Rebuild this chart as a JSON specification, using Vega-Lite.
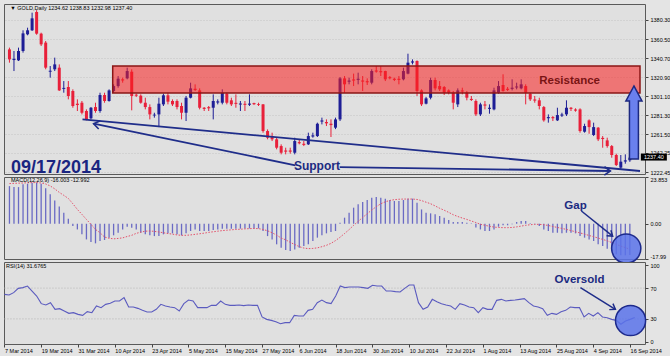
{
  "$schema": "https://vega.github.io/schema/vega-lite/v6.json",
  "background": "#e4e4e4",
  "padding": {"left": 1, "top": 3, "right": 0, "bottom": 4},
  "spacing": 3,
  "bounds": "flush",
  "resolve": {"scale": {"x": "independent", "y": "independent"}},
  "config": {
    "view": {"fill": "#e0e0e0", "stroke": "#5a5a5a", "strokeWidth": 1},
    "axis": {"labelFont": "Liberation Sans", "labelFontSize": 5.5, "labelColor": "#000000", "tickColor": "#444444", "gridColor": "#c4c4c4", "gridDash": [1, 2], "domain": false, "labelOverlap": false},
    "text": {"font": "Liberation Sans"}
  },
  "datasets": {
    "bars": [
      {"i":0,"o":1349.8,"h":1351.6,"l":1336.0,"c":1339.4,"m":19.2,"s":20.5,"r":61.9},
      {"i":1,"o":1338.7,"h":1348.1,"l":1327.3,"c":1340.0,"m":18.7,"s":20.6,"r":61.0},
      {"i":2,"o":1338.4,"h":1351.6,"l":1337.7,"c":1348.1,"m":18.7,"s":20.7,"r":64.1},
      {"i":3,"o":1348.1,"h":1369.6,"l":1346.4,"c":1366.4,"m":20.1,"s":20.8,"r":69.7},
      {"i":4,"o":1365.4,"h":1372.3,"l":1364.4,"c":1369.6,"m":20.4,"s":20.9,"r":70.6},
      {"i":5,"o":1369.6,"h":1387.9,"l":1368.9,"c":1382.0,"m":20.9,"s":21.0,"r":72.7},
      {"i":6,"o":1388.6,"h":1390.5,"l":1365.0,"c":1366.1,"m":20.9,"s":21.0,"r":66.2},
      {"i":7,"o":1366.1,"h":1367.1,"l":1353.3,"c":1355.0,"m":20.4,"s":20.8,"r":59.7},
      {"i":8,"o":1356.8,"h":1358.5,"l":1329.1,"c":1330.8,"m":18.1,"s":20.3,"r":49.8},
      {"i":9,"o":1326.6,"h":1332.5,"l":1320.4,"c":1327.6,"m":15.0,"s":19.3,"r":48.1},
      {"i":10,"o":1329.1,"h":1341.2,"l":1327.3,"c":1334.2,"m":11.9,"s":17.8,"r":51.1},
      {"i":11,"o":1330.8,"h":1334.2,"l":1306.6,"c":1307.2,"m":8.8,"s":16.0,"r":42.4},
      {"i":12,"o":1308.8,"h":1316.9,"l":1304.8,"c":1309.8,"m":5.6,"s":14.5,"r":43.3},
      {"i":13,"o":1310.7,"h":1316.9,"l":1297.9,"c":1301.4,"m":2.6,"s":12.9,"r":40.3},
      {"i":14,"o":1306.6,"h":1308.3,"l":1289.2,"c":1291.0,"m":-1.2,"s":10.2,"r":37.2},
      {"i":15,"o":1293.4,"h":1297.9,"l":1285.8,"c":1292.0,"m":-2.9,"s":7.3,"r":38.1},
      {"i":16,"o":1294.4,"h":1296.2,"l":1282.3,"c":1284.0,"m":-5.4,"s":4.8,"r":35.9},
      {"i":17,"o":1285.8,"h":1287.5,"l":1276.1,"c":1277.1,"m":-8.0,"s":2.2,"r":34.6},
      {"i":18,"o":1278.2,"h":1289.9,"l":1277.1,"c":1289.2,"m":-9.3,"s":-0.3,"r":39.4},
      {"i":19,"o":1289.9,"h":1294.4,"l":1284.0,"c":1285.8,"m":-10.0,"s":-2.9,"r":38.1},
      {"i":20,"o":1285.8,"h":1304.8,"l":1284.0,"c":1302.4,"m":-8.8,"s":-4.6,"r":46.8},
      {"i":21,"o":1302.4,"h":1304.8,"l":1294.4,"c":1296.2,"m":-8.3,"s":-6.8,"r":44.6},
      {"i":22,"o":1296.2,"h":1308.3,"l":1295.5,"c":1307.2,"m":-7.1,"s":-7.4,"r":48.9},
      {"i":23,"o":1306.6,"h":1313.5,"l":1304.8,"c":1311.7,"m":-5.9,"s":-7.7,"r":50.2},
      {"i":24,"o":1311.7,"h":1322.1,"l":1310.0,"c":1319.4,"m":-4.6,"s":-7.5,"r":53.2},
      {"i":25,"o":1318.7,"h":1320.4,"l":1315.2,"c":1317.5,"m":-2.9,"s":-7.2,"r":53.2},
      {"i":26,"o":1319.7,"h":1330.8,"l":1318.7,"c":1327.3,"m":-1.5,"s":-6.5,"r":57.6},
      {"i":27,"o":1326.6,"h":1329.1,"l":1286.5,"c":1301.4,"m":-2.0,"s":-5.9,"r":45.5},
      {"i":28,"o":1302.8,"h":1303.8,"l":1300.3,"c":1301.7,"m":-2.9,"s":-4.9,"r":45.5},
      {"i":29,"o":1301.7,"h":1303.1,"l":1293.4,"c":1294.4,"m":-4.6,"s":-4.3,"r":43.7},
      {"i":30,"o":1294.4,"h":1299.6,"l":1287.5,"c":1289.9,"m":-5.4,"s":-3.8,"r":41.1},
      {"i":31,"o":1289.9,"h":1292.7,"l":1277.1,"c":1282.3,"m":-5.9,"s":-3.7,"r":39.0},
      {"i":32,"o":1281.2,"h":1284.0,"l":1278.9,"c":1282.0,"m":-6.3,"s":-3.9,"r":39.0},
      {"i":33,"o":1282.3,"h":1299.6,"l":1269.1,"c":1293.4,"m":-6.3,"s":-4.2,"r":42.4},
      {"i":34,"o":1292.7,"h":1303.8,"l":1291.0,"c":1302.1,"m":-5.4,"s":-4.6,"r":48.9},
      {"i":35,"o":1302.1,"h":1304.8,"l":1292.7,"c":1295.5,"m":-4.9,"s":-5.0,"r":46.8},
      {"i":36,"o":1296.2,"h":1297.9,"l":1291.0,"c":1292.7,"m":-4.9,"s":-5.3,"r":45.5},
      {"i":37,"o":1296.2,"h":1297.9,"l":1287.5,"c":1289.9,"m":-5.4,"s":-5.7,"r":44.6},
      {"i":38,"o":1291.0,"h":1294.4,"l":1277.1,"c":1284.0,"m":-5.9,"s":-5.9,"r":40.3},
      {"i":39,"o":1284.0,"h":1301.4,"l":1275.4,"c":1299.6,"m":-4.9,"s":-5.9,"r":49.8},
      {"i":40,"o":1299.6,"h":1315.2,"l":1298.9,"c":1309.3,"m":-3.7,"s":-5.7,"r":54.5},
      {"i":41,"o":1308.9,"h":1313.5,"l":1306.6,"c":1307.6,"m":-2.9,"s":-5.4,"r":53.2},
      {"i":42,"o":1307.2,"h":1309.3,"l":1287.5,"c":1289.2,"m":-3.7,"s":-5.1,"r":44.6},
      {"i":43,"o":1289.2,"h":1289.9,"l":1285.8,"c":1288.0,"m":-3.7,"s":-4.8,"r":44.6},
      {"i":44,"o":1289.8,"h":1291.0,"l":1285.8,"c":1288.6,"m":-3.7,"s":-4.4,"r":44.6},
      {"i":45,"o":1289.2,"h":1303.1,"l":1277.1,"c":1296.2,"m":-3.2,"s":-4.1,"r":47.6},
      {"i":46,"o":1294.6,"h":1297.9,"l":1292.7,"c":1295.8,"m":-2.9,"s":-3.8,"r":47.6},
      {"i":47,"o":1294.4,"h":1308.3,"l":1292.7,"c":1304.8,"m":-2.5,"s":-3.5,"r":53.2},
      {"i":48,"o":1303.8,"h":1304.8,"l":1292.7,"c":1294.4,"m":-2.5,"s":-3.3,"r":48.9},
      {"i":49,"o":1296.9,"h":1299.6,"l":1291.0,"c":1292.7,"m":-2.5,"s":-3.1,"r":47.6},
      {"i":50,"o":1294.3,"h":1303.1,"l":1289.2,"c":1293.2,"m":-2.5,"s":-2.9,"r":47.6},
      {"i":51,"o":1292.5,"h":1296.2,"l":1285.8,"c":1293.6,"m":-2.5,"s":-2.8,"r":48.1},
      {"i":52,"o":1293.3,"h":1296.2,"l":1285.8,"c":1292.2,"m":-2.4,"s":-2.6,"r":47.2},
      {"i":53,"o":1292.3,"h":1303.1,"l":1291.0,"c":1293.5,"m":-2.4,"s":-2.5,"r":48.1},
      {"i":54,"o":1294.0,"h":1294.4,"l":1292.0,"c":1292.9,"m":-2.4,"s":-2.4,"r":47.6},
      {"i":55,"o":1293.2,"h":1294.4,"l":1291.0,"c":1292.2,"m":-2.4,"s":-2.5,"r":47.6},
      {"i":56,"o":1292.7,"h":1293.0,"l":1263.3,"c":1265.0,"m":-3.7,"s":-2.9,"r":32.5},
      {"i":57,"o":1265.0,"h":1266.7,"l":1256.4,"c":1258.1,"m":-6.3,"s":-3.6,"r":29.4},
      {"i":58,"o":1259.8,"h":1263.3,"l":1254.6,"c":1256.4,"m":-8.0,"s":-4.6,"r":28.1},
      {"i":59,"o":1256.4,"h":1258.1,"l":1246.0,"c":1247.7,"m":-10.5,"s":-5.8,"r":26.4},
      {"i":60,"o":1249.4,"h":1251.2,"l":1240.8,"c":1242.5,"m":-12.2,"s":-7.3,"r":23.8},
      {"i":61,"o":1244.8,"h":1247.7,"l":1240.8,"c":1243.6,"m":-13.4,"s":-8.2,"r":25.1},
      {"i":62,"o":1244.8,"h":1247.7,"l":1241.5,"c":1243.6,"m":-13.9,"s":-9.5,"r":25.1},
      {"i":63,"o":1242.5,"h":1258.1,"l":1240.8,"c":1254.6,"m":-13.1,"s":-10.6,"r":34.6},
      {"i":64,"o":1253.5,"h":1256.4,"l":1251.2,"c":1252.3,"m":-12.2,"s":-11.7,"r":33.8},
      {"i":65,"o":1251.8,"h":1254.6,"l":1249.4,"c":1250.6,"m":-11.4,"s":-12.4,"r":33.8},
      {"i":66,"o":1251.2,"h":1263.3,"l":1250.5,"c":1259.8,"m":-10.5,"s":-12.7,"r":41.1},
      {"i":67,"o":1259.3,"h":1263.3,"l":1258.1,"c":1260.5,"m":-8.8,"s":-12.6,"r":42.4},
      {"i":68,"o":1259.8,"h":1273.7,"l":1258.8,"c":1272.6,"m":-7.1,"s":-12.3,"r":51.1},
      {"i":69,"o":1274.8,"h":1278.9,"l":1271.9,"c":1276.0,"m":-5.9,"s":-11.7,"r":54.5},
      {"i":70,"o":1274.4,"h":1277.1,"l":1270.2,"c":1273.0,"m":-4.9,"s":-11.0,"r":51.1},
      {"i":71,"o":1272.6,"h":1277.1,"l":1258.8,"c":1271.2,"m":-4.2,"s":-10.0,"r":49.8},
      {"i":72,"o":1268.5,"h":1278.9,"l":1267.0,"c":1277.1,"m":-3.7,"s":-8.6,"r":59.7},
      {"i":73,"o":1277.1,"h":1321.1,"l":1275.4,"c":1319.7,"m":0.5,"s":-6.9,"r":72.7},
      {"i":74,"o":1319.7,"h":1322.1,"l":1304.8,"c":1313.5,"m":3.1,"s":-5.0,"r":70.6},
      {"i":75,"o":1316.2,"h":1320.4,"l":1313.5,"c":1317.4,"m":5.6,"s":-3.0,"r":71.5},
      {"i":76,"o":1318.6,"h":1324.6,"l":1311.7,"c":1317.4,"m":8.2,"s":-0.8,"r":71.5},
      {"i":77,"o":1318.1,"h":1325.6,"l":1313.5,"c":1319.3,"m":9.9,"s":1.2,"r":71.5},
      {"i":78,"o":1317.5,"h":1322.1,"l":1306.6,"c":1316.3,"m":11.1,"s":3.2,"r":70.6},
      {"i":79,"o":1316.8,"h":1319.7,"l":1312.8,"c":1315.6,"m":12.1,"s":5.1,"r":69.7},
      {"i":80,"o":1315.2,"h":1329.1,"l":1313.5,"c":1327.3,"m":13.3,"s":7.0,"r":73.6},
      {"i":81,"o":1327.9,"h":1332.5,"l":1325.6,"c":1326.7,"m":13.6,"s":8.7,"r":72.7},
      {"i":82,"o":1327.2,"h":1332.5,"l":1322.1,"c":1326.0,"m":13.3,"s":10.2,"r":72.7},
      {"i":83,"o":1327.3,"h":1327.6,"l":1316.9,"c":1318.7,"m":12.8,"s":11.2,"r":66.2},
      {"i":84,"o":1321.0,"h":1322.1,"l":1318.7,"c":1319.8,"m":12.1,"s":11.9,"r":66.2},
      {"i":85,"o":1319.3,"h":1320.4,"l":1316.9,"c":1318.1,"m":11.6,"s":12.3,"r":65.4},
      {"i":86,"o":1319.3,"h":1322.1,"l":1313.5,"c":1318.1,"m":11.6,"s":12.5,"r":64.9},
      {"i":87,"o":1318.7,"h":1330.8,"l":1317.6,"c":1327.3,"m":12.1,"s":12.6,"r":69.7},
      {"i":88,"o":1324.6,"h":1345.3,"l":1323.9,"c":1336.0,"m":12.8,"s":12.6,"r":74.0},
      {"i":89,"o":1336.1,"h":1339.4,"l":1334.2,"c":1337.3,"m":12.8,"s":12.6,"r":74.0},
      {"i":90,"o":1337.7,"h":1338.4,"l":1301.4,"c":1306.6,"m":10.7,"s":12.4,"r":51.1},
      {"i":91,"o":1307.2,"h":1308.3,"l":1291.0,"c":1292.7,"m":7.3,"s":11.8,"r":42.4},
      {"i":92,"o":1293.4,"h":1300.3,"l":1292.7,"c":1298.9,"m":5.6,"s":11.0,"r":45.5},
      {"i":93,"o":1299.6,"h":1320.4,"l":1297.9,"c":1318.0,"m":5.3,"s":10.2,"r":55.4},
      {"i":94,"o":1318.0,"h":1320.4,"l":1307.2,"c":1309.3,"m":4.8,"s":9.1,"r":52.4},
      {"i":95,"o":1311.7,"h":1316.9,"l":1306.6,"c":1308.3,"m":3.9,"s":7.9,"r":49.8},
      {"i":96,"o":1310.7,"h":1311.7,"l":1302.4,"c":1304.8,"m":3.1,"s":6.9,"r":48.1},
      {"i":97,"o":1307.2,"h":1308.3,"l":1303.1,"c":1304.8,"m":1.9,"s":5.8,"r":46.8},
      {"i":98,"o":1304.8,"h":1306.6,"l":1287.5,"c":1294.4,"m":0.9,"s":4.6,"r":42.4},
      {"i":99,"o":1292.7,"h":1309.3,"l":1289.9,"c":1307.2,"m":0.9,"s":3.7,"r":49.8},
      {"i":100,"o":1307.2,"h":1310.0,"l":1303.1,"c":1306.0,"m":0.9,"s":2.9,"r":48.1},
      {"i":101,"o":1304.8,"h":1306.6,"l":1296.9,"c":1299.6,"m":0.5,"s":2.2,"r":45.5},
      {"i":102,"o":1298.4,"h":1301.4,"l":1296.2,"c":1297.2,"m":0.2,"s":1.4,"r":44.6},
      {"i":103,"o":1296.2,"h":1297.9,"l":1280.6,"c":1282.3,"m":-1.9,"s":0.6,"r":38.1},
      {"i":104,"o":1282.3,"h":1294.4,"l":1280.6,"c":1292.7,"m":-2.9,"s":-0.3,"r":44.6},
      {"i":105,"o":1292.6,"h":1296.2,"l":1287.5,"c":1291.4,"m":-3.7,"s":-0.8,"r":42.4},
      {"i":106,"o":1288.0,"h":1292.7,"l":1283.0,"c":1289.2,"m":-3.7,"s":-1.3,"r":42.4},
      {"i":107,"o":1287.5,"h":1310.0,"l":1286.5,"c":1307.2,"m":-2.9,"s":-1.7,"r":54.1},
      {"i":108,"o":1304.8,"h":1316.9,"l":1303.8,"c":1311.7,"m":-1.5,"s":-1.9,"r":55.4},
      {"i":109,"o":1312.8,"h":1323.9,"l":1305.9,"c":1306.6,"m":-0.8,"s":-2.0,"r":53.2},
      {"i":110,"o":1308.9,"h":1310.7,"l":1306.6,"c":1307.7,"m":-0.8,"s":-2.0,"r":54.1},
      {"i":111,"o":1308.8,"h":1318.7,"l":1307.2,"c":1310.0,"m":-0.3,"s":-1.9,"r":54.5},
      {"i":112,"o":1310.1,"h":1315.2,"l":1308.3,"c":1311.3,"m":0.9,"s":-1.6,"r":55.4},
      {"i":113,"o":1309.3,"h":1318.7,"l":1308.3,"c":1313.5,"m":1.4,"s":-1.2,"r":56.3},
      {"i":114,"o":1311.7,"h":1313.5,"l":1292.7,"c":1304.8,"m":1.4,"s":-0.8,"r":51.1},
      {"i":115,"o":1303.8,"h":1304.8,"l":1296.2,"c":1297.9,"m":0.2,"s":-0.5,"r":46.8},
      {"i":116,"o":1297.8,"h":1301.4,"l":1294.4,"c":1296.6,"m":-0.3,"s":-0.3,"r":45.5},
      {"i":117,"o":1296.9,"h":1299.6,"l":1287.5,"c":1291.0,"m":-1.2,"s":-0.3,"r":43.3},
      {"i":118,"o":1289.9,"h":1291.0,"l":1274.7,"c":1276.1,"m":-2.9,"s":-0.5,"r":34.6},
      {"i":119,"o":1278.3,"h":1282.3,"l":1273.7,"c":1279.5,"m":-3.7,"s":-0.9,"r":37.2},
      {"i":120,"o":1279.5,"h":1280.6,"l":1275.4,"c":1278.3,"m":-4.6,"s":-1.4,"r":35.9},
      {"i":121,"o":1276.1,"h":1289.2,"l":1275.4,"c":1281.6,"m":-4.6,"s":-1.9,"r":39.4},
      {"i":122,"o":1281.0,"h":1284.0,"l":1279.6,"c":1282.2,"m":-4.9,"s":-2.4,"r":41.1},
      {"i":123,"o":1282.3,"h":1296.9,"l":1280.6,"c":1289.2,"m":-4.6,"s":-2.9,"r":45.5},
      {"i":124,"o":1289.2,"h":1289.9,"l":1285.8,"c":1288.0,"m":-4.6,"s":-3.5,"r":44.6},
      {"i":125,"o":1287.4,"h":1288.6,"l":1285.1,"c":1286.2,"m":-4.9,"s":-4.1,"r":44.6},
      {"i":126,"o":1287.5,"h":1288.6,"l":1263.3,"c":1265.0,"m":-6.3,"s":-4.7,"r":32.5},
      {"i":127,"o":1264.3,"h":1272.6,"l":1263.3,"c":1270.2,"m":-7.1,"s":-5.3,"r":37.2},
      {"i":128,"o":1276.1,"h":1277.1,"l":1262.2,"c":1269.1,"m":-8.0,"s":-6.0,"r":33.8},
      {"i":129,"o":1260.9,"h":1273.7,"l":1259.8,"c":1269.1,"m":-8.8,"s":-6.6,"r":38.1},
      {"i":130,"o":1268.5,"h":1269.1,"l":1254.6,"c":1256.4,"m":-10.5,"s":-7.3,"r":32.5},
      {"i":131,"o":1257.9,"h":1259.8,"l":1247.7,"c":1256.7,"m":-11.4,"s":-8.0,"r":31.6},
      {"i":132,"o":1255.3,"h":1258.1,"l":1247.7,"c":1249.4,"m":-12.7,"s":-8.7,"r":29.4},
      {"i":133,"o":1249.4,"h":1250.5,"l":1237.3,"c":1240.1,"m":-13.9,"s":-9.6,"r":28.1},
      {"i":134,"o":1240.1,"h":1241.5,"l":1228.7,"c":1229.7,"m":-15.6,"s":-10.5,"r":23.0},
      {"i":135,"o":1227.0,"h":1240.1,"l":1225.2,"c":1233.2,"m":-16.1,"s":-11.4,"r":27.3},
      {"i":136,"o":1233.3,"h":1240.8,"l":1231.1,"c":1234.6,"m":-16.1,"s":-12.2,"r":29.4},
      {"i":137,"o":1234.62,"h":1238.83,"l":1232.98,"c":1237.40,"m":-16.003,"s":-12.992,"r":31.6765}
    ]
  },
  "vconcat": [
    {
      "width": 641,
      "height": 170,
      "encoding": {
        "x": {"field": "i", "type": "quantitative", "scale": {"domain": [-0.1, 139.24], "nice": false, "zero": false}, "axis": null}
      },
      "layer": [
        {
          "data": {"name": "bars"},
          "mark": {"type": "rule", "strokeWidth": 1},
          "encoding": {
            "y": {"field": "l", "type": "quantitative", "scale": {"domain": [1220.4, 1396.9], "nice": false, "zero": false},
                  "axis": {"orient": "right", "values": [1222.45, 1242.25, 1261.5, 1281.3, 1301.1, 1320.9, 1340.7, 1360.5, 1380.3], "format": ".2f", "tickSize": 3, "labelPadding": 2, "grid": true, "title": null}},
            "y2": {"field": "h"},
            "color": {"condition": {"test": "datum.c >= datum.o", "value": "#1e1e96"}, "value": "#e8203a"}
          }
        },
        {
          "data": {"name": "bars"},
          "mark": {"type": "bar", "size": 3},
          "encoding": {
            "y": {"field": "o", "type": "quantitative", "scale": {"domain": [1220.4, 1396.9], "nice": false, "zero": false},
                  "axis": {"orient": "right", "values": [1222.45, 1242.25, 1261.5, 1281.3, 1301.1, 1320.9, 1340.7, 1360.5, 1380.3], "format": ".2f", "tickSize": 3, "labelPadding": 2, "grid": true, "title": null}},
            "y2": {"field": "c"},
            "color": {"condition": {"test": "datum.c >= datum.o", "value": "#1e1e96"}, "value": "#e8203a"}
          }
        },
        {
          "data": {"values": [{"i": 22.8, "i2": 139.24, "p": 1304.5, "p2": 1332.5}]},
          "mark": {"type": "rect", "fill": "#fa1e1e", "fillOpacity": 0.55, "stroke": "#8a1616", "strokeWidth": 1.5},
          "encoding": {
            "x2": {"field": "i2"},
            "y": {"field": "p", "type": "quantitative",
                  "axis": {"orient": "right", "values": [1222.45, 1242.25, 1261.5, 1281.3, 1301.1, 1320.9, 1340.7, 1360.5, 1380.3], "format": ".2f", "tickSize": 3, "labelPadding": 2, "grid": true, "title": null}},
            "y2": {"field": "p2"}
          }
        },
        {
          "data": {"values": [{"i": 123.7, "p": 1316.9, "t": "Resistance"}]},
          "mark": {"type": "text", "fontSize": 11.5, "fontWeight": "bold", "color": "#7a1414", "align": "center", "baseline": "middle"},
          "encoding": {"y": {"field": "p", "type": "quantitative",
                  "axis": {"orient": "right", "values": [1222.45, 1242.25, 1261.5, 1281.3, 1301.1, 1320.9, 1340.7, 1360.5, 1380.3], "format": ".2f", "tickSize": 3, "labelPadding": 2, "grid": true, "title": null}}, "text": {"field": "t"}}
        },
        {
          "data": {"values": [
            {"i": 16.13, "p": 1277.2, "i2": 139.24, "p2": 1223.5},
            {"i": 18.59, "p": 1272.6, "i2": 63.15, "p2": 1229.4},
            {"i": 72.93, "p": 1227.6, "i2": 132.7, "p2": 1223.5}
          ]},
          "mark": {"type": "rule", "color": "#1f2d8a", "strokeWidth": 1.8},
          "encoding": {"x2": {"field": "i2"}, "y": {"field": "p", "type": "quantitative",
                  "axis": {"orient": "right", "values": [1222.45, 1242.25, 1261.5, 1281.3, 1301.1, 1320.9, 1340.7, 1360.5, 1380.3], "format": ".2f", "tickSize": 3, "labelPadding": 2, "grid": true, "title": null}}, "y2": {"field": "p2"}}
        },
        {
          "data": {"values": [{"i": 18.59, "p": 1272.6, "a": 11.3}, {"i": 132.7, "p": 1223.5, "a": 180.8}]},
          "mark": {"type": "point", "shape": "M1,-0.7L0,0L1,0.7", "filled": false, "stroke": "#1f2d8a", "strokeWidth": 1.6, "size": 144, "opacity": 1},
          "encoding": {"y": {"field": "p", "type": "quantitative",
                  "axis": {"orient": "right", "values": [1222.45, 1242.25, 1261.5, 1281.3, 1301.1, 1320.9, 1340.7, 1360.5, 1380.3], "format": ".2f", "tickSize": 3, "labelPadding": 2, "grid": true, "title": null}}, "angle": {"field": "a", "type": "quantitative", "scale": null}}
        },
        {
          "data": {"values": [{"i": 67.9, "p": 1228.7, "t": "Support"}]},
          "mark": {"type": "text", "fontSize": 12, "fontWeight": "bold", "color": "#1c2a80", "align": "center", "baseline": "middle"},
          "encoding": {"y": {"field": "p", "type": "quantitative",
                  "axis": {"orient": "right", "values": [1222.45, 1242.25, 1261.5, 1281.3, 1301.1, 1320.9, 1340.7, 1360.5, 1380.3], "format": ".2f", "tickSize": 3, "labelPadding": 2, "grid": true, "title": null}}, "text": {"field": "t"}}
        },
        {
          "data": {"values": [{"i": 0.33, "p": 1221.4, "t": "09/17/2014"}]},
          "mark": {"type": "text", "fontSize": 18, "fontWeight": "bold", "color": "#1a2580", "align": "left", "baseline": "alphabetic"},
          "encoding": {"y": {"field": "p", "type": "quantitative",
                  "axis": {"orient": "right", "values": [1222.45, 1242.25, 1261.5, 1281.3, 1301.1, 1320.9, 1340.7, 1360.5, 1380.3], "format": ".2f", "tickSize": 3, "labelPadding": 2, "grid": true, "title": null}}, "text": {"field": "t"}}
        },
        {
          "data": {"values": [{"i": 0.2, "p": 1392.8, "t": "▼ GOLD,Daily 1234.62 1238.83 1232.98 1237.40"}]},
          "mark": {"type": "text", "fontSize": 5.5, "color": "#000000", "align": "left", "baseline": "middle"},
          "encoding": {"y": {"field": "p", "type": "quantitative",
                  "axis": {"orient": "right", "values": [1222.45, 1242.25, 1261.5, 1281.3, 1301.1, 1320.9, 1340.7, 1360.5, 1380.3], "format": ".2f", "tickSize": 3, "labelPadding": 2, "grid": true, "title": null}}, "text": {"field": "t"}}
        },
        {
          "data": {"values": [{"i": 137.9, "p": 1273.9}]},
          "mark": {"type": "point", "shape": "M0,-1L0.22,-0.59L0.123,-0.59L0.123,1L-0.123,1L-0.123,-0.59L-0.22,-0.59Z", "filled": true, "fill": "#6a80ee", "stroke": "#1c2880", "strokeWidth": 1.5, "size": 5329, "opacity": 1},
          "encoding": {"y": {"field": "p", "type": "quantitative",
                  "axis": {"orient": "right", "values": [1222.45, 1242.25, 1261.5, 1281.3, 1301.1, 1320.9, 1340.7, 1360.5, 1380.3], "format": ".2f", "tickSize": 3, "labelPadding": 2, "grid": true, "title": null}}}
        },
        {
          "data": {"values": [{"i": 142.3, "p": 1238.0}]},
          "mark": {"type": "point", "shape": "M-1,-0.27L1,-0.27L1,0.27L-1,0.27Z", "filled": true, "fill": "#000000", "size": 676, "opacity": 1},
          "encoding": {"y": {"field": "p", "type": "quantitative",
                  "axis": {"orient": "right", "values": [1222.45, 1242.25, 1261.5, 1281.3, 1301.1, 1320.9, 1340.7, 1360.5, 1380.3], "format": ".2f", "tickSize": 3, "labelPadding": 2, "grid": true, "title": null}}}
        },
        {
          "data": {"values": [{"i": 142.3, "p": 1238.0, "t": "1237.40"}]},
          "mark": {"type": "text", "fontSize": 5.5, "color": "#ffffff", "align": "center", "baseline": "middle"},
          "encoding": {"y": {"field": "p", "type": "quantitative",
                  "axis": {"orient": "right", "values": [1222.45, 1242.25, 1261.5, 1281.3, 1301.1, 1320.9, 1340.7, 1360.5, 1380.3], "format": ".2f", "tickSize": 3, "labelPadding": 2, "grid": true, "title": null}}, "text": {"field": "t"}}
        }
      ]
    },
    {
      "width": 641,
      "height": 82,
      "encoding": {
        "x": {"field": "i", "type": "quantitative", "scale": {"domain": [-0.1, 139.24], "nice": false, "zero": false}, "axis": null}
      },
      "layer": [
        {
          "data": {"name": "bars"},
          "mark": {"type": "bar", "size": 1.3, "color": "#6a6ac4"},
          "encoding": {
            "y": {"field": "m", "type": "quantitative", "scale": {"domain": [-17.99, 23.853], "nice": false, "zero": false},
                  "axis": {"orient": "right", "values": [-17.99, 0, 23.853], "labelExpr": "datum.value == 0 ? '0.00' : (datum.value > 0 ? '23.853' : '-17.99')", "labelFlush": true, "tickSize": 3, "labelPadding": 2, "grid": false, "title": null}}
          }
        },
        {
          "data": {"name": "bars"},
          "mark": {"type": "line", "color": "#e4506a", "strokeWidth": 1, "strokeDash": [1.5, 1.5]},
          "encoding": {"y": {"field": "s", "type": "quantitative",
                  "axis": {"orient": "right", "values": [-17.99, 0, 23.853], "labelExpr": "datum.value == 0 ? '0.00' : (datum.value > 0 ? '23.853' : '-17.99')", "labelFlush": true, "tickSize": 3, "labelPadding": 2, "grid": false, "title": null}}}
        },
        {
          "data": {"values": [{"i": 0.33, "v": 22.3, "t": "MACD(12,26,9) -16.003 -12.992"}]},
          "mark": {"type": "text", "fontSize": 5.5, "color": "#000000", "align": "left", "baseline": "middle"},
          "encoding": {"y": {"field": "v", "type": "quantitative",
                  "axis": {"orient": "right", "values": [-17.99, 0, 23.853], "labelExpr": "datum.value == 0 ? '0.00' : (datum.value > 0 ? '23.853' : '-17.99')", "labelFlush": true, "tickSize": 3, "labelPadding": 2, "grid": false, "title": null}}, "text": {"field": "t"}}
        },
        {
          "data": {"values": [{"i": 136.2, "v": -12.66}]},
          "mark": {"type": "point", "shape": "circle", "filled": true, "fill": "#5a73ea", "fillOpacity": 0.85, "stroke": "#1d2a8c", "strokeWidth": 1.5, "size": 855, "opacity": 1},
          "encoding": {"y": {"field": "v", "type": "quantitative",
                  "axis": {"orient": "right", "values": [-17.99, 0, 23.853], "labelExpr": "datum.value == 0 ? '0.00' : (datum.value > 0 ? '23.853' : '-17.99')", "labelFlush": true, "tickSize": 3, "labelPadding": 2, "grid": false, "title": null}}}
        },
        {
          "data": {"values": [{"i": 126.3, "v": 6.5, "i2": 133.2, "v2": -6.3}]},
          "mark": {"type": "rule", "color": "#1f2d8a", "strokeWidth": 1.5},
          "encoding": {"x2": {"field": "i2"}, "y": {"field": "v", "type": "quantitative",
                  "axis": {"orient": "right", "values": [-17.99, 0, 23.853], "labelExpr": "datum.value == 0 ? '0.00' : (datum.value > 0 ? '23.853' : '-17.99')", "labelFlush": true, "tickSize": 3, "labelPadding": 2, "grid": false, "title": null}}, "y2": {"field": "v2"}}
        },
        {
          "data": {"values": [{"i": 133.2, "v": -6.3, "a": 218.3}]},
          "mark": {"type": "point", "shape": "M1,-0.7L0,0L1,0.7", "filled": false, "stroke": "#1f2d8a", "strokeWidth": 1.5, "size": 100, "opacity": 1},
          "encoding": {"y": {"field": "v", "type": "quantitative",
                  "axis": {"orient": "right", "values": [-17.99, 0, 23.853], "labelExpr": "datum.value == 0 ? '0.00' : (datum.value > 0 ? '23.853' : '-17.99')", "labelFlush": true, "tickSize": 3, "labelPadding": 2, "grid": false, "title": null}}, "angle": {"field": "a", "type": "quantitative", "scale": null}}
        },
        {
          "data": {"values": [{"i": 125.0, "v": 9.0, "t": "Gap"}]},
          "mark": {"type": "text", "fontSize": 11.5, "fontWeight": "bold", "color": "#1c2a80", "align": "center", "baseline": "middle"},
          "encoding": {"y": {"field": "v", "type": "quantitative",
                  "axis": {"orient": "right", "values": [-17.99, 0, 23.853], "labelExpr": "datum.value == 0 ? '0.00' : (datum.value > 0 ? '23.853' : '-17.99')", "labelFlush": true, "tickSize": 3, "labelPadding": 2, "grid": false, "title": null}}, "text": {"field": "t"}}
        }
      ]
    },
    {
      "width": 641,
      "height": 82,
      "encoding": {
        "x": {"field": "i", "type": "quantitative", "scale": {"domain": [-0.1, 139.24], "nice": false, "zero": false},
              "axis": {"values": [0,8,16,24,32,40,48,56,64,72,80,88,96,104,112,120,128,136],
                       "labelExpr": "['7 Mar 2014','19 Mar 2014','31 Mar 2014','10 Apr 2014','23 Apr 2014','5 May 2014','15 May 2014','27 May 2014','6 Jun 2014','18 Jun 2014','30 Jun 2014','10 Jul 2014','22 Jul 2014','1 Aug 2014','13 Aug 2014','25 Aug 2014','4 Sep 2014','16 Sep 2014'][round(datum.value / 8)]",
                       "labelAlign": "left", "labelBaseline": "top", "labelPadding": 1, "tickSize": 3, "grid": false, "title": null}}
      },
      "layer": [
        {
          "data": {"values": [{"i": 0, "i2": 139.24, "v": 30}, {"i": 0, "i2": 139.24, "v": 70}]},
          "mark": {"type": "rule", "color": "#b4b4b4", "strokeDash": [1, 2], "strokeWidth": 1},
          "encoding": {
            "x2": {"field": "i2"},
            "y": {"field": "v", "type": "quantitative", "scale": {"domain": [-2.6, 103.9], "nice": false, "zero": false},
                  "axis": {"orient": "right", "values": [0, 30, 70, 100], "tickSize": 3, "labelPadding": 2, "grid": false, "title": null}}
          }
        },
        {
          "data": {"name": "bars"},
          "mark": {"type": "line", "color": "#5b5bbf", "strokeWidth": 1.1},
          "encoding": {"y": {"field": "r", "type": "quantitative",
                  "axis": {"orient": "right", "values": [0, 30, 70, 100], "tickSize": 3, "labelPadding": 2, "grid": false, "title": null}}}
        },
        {
          "data": {"values": [{"i": 0.33, "v": 98.1, "t": "RSI(14) 31.6765"}]},
          "mark": {"type": "text", "fontSize": 5.5, "color": "#000000", "align": "left", "baseline": "middle"},
          "encoding": {"y": {"field": "v", "type": "quantitative",
                  "axis": {"orient": "right", "values": [0, 30, 70, 100], "tickSize": 3, "labelPadding": 2, "grid": false, "title": null}}, "text": {"field": "t"}}
        },
        {
          "data": {"values": [{"i": 136.1, "v": 27.9}]},
          "mark": {"type": "point", "shape": "circle", "filled": true, "fill": "#5a73ea", "fillOpacity": 0.85, "stroke": "#1d2a8c", "strokeWidth": 1.5, "size": 908, "opacity": 1},
          "encoding": {"y": {"field": "v", "type": "quantitative",
                  "axis": {"orient": "right", "values": [0, 30, 70, 100], "tickSize": 3, "labelPadding": 2, "grid": false, "title": null}}}
        },
        {
          "data": {"values": [{"i": 125.2, "v": 70.5, "i2": 132.8, "v2": 42.5}]},
          "mark": {"type": "rule", "color": "#1f2d8a", "strokeWidth": 1.5},
          "encoding": {"x2": {"field": "i2"}, "y": {"field": "v", "type": "quantitative",
                  "axis": {"orient": "right", "values": [0, 30, 70, 100], "tickSize": 3, "labelPadding": 2, "grid": false, "title": null}}, "y2": {"field": "v2"}}
        },
        {
          "data": {"values": [{"i": 132.8, "v": 42.5, "a": 211.7}]},
          "mark": {"type": "point", "shape": "M1,-0.7L0,0L1,0.7", "filled": false, "stroke": "#1f2d8a", "strokeWidth": 1.5, "size": 100, "opacity": 1},
          "encoding": {"y": {"field": "v", "type": "quantitative",
                  "axis": {"orient": "right", "values": [0, 30, 70, 100], "tickSize": 3, "labelPadding": 2, "grid": false, "title": null}}, "angle": {"field": "a", "type": "quantitative", "scale": null}}
        },
        {
          "data": {"values": [{"i": 125.0, "v": 80.5, "t": "Oversold"}]},
          "mark": {"type": "text", "fontSize": 11.5, "fontWeight": "bold", "color": "#1c2a80", "align": "center", "baseline": "middle"},
          "encoding": {"y": {"field": "v", "type": "quantitative",
                  "axis": {"orient": "right", "values": [0, 30, 70, 100], "tickSize": 3, "labelPadding": 2, "grid": false, "title": null}}, "text": {"field": "t"}}
        }
      ]
    }
  ]
}
